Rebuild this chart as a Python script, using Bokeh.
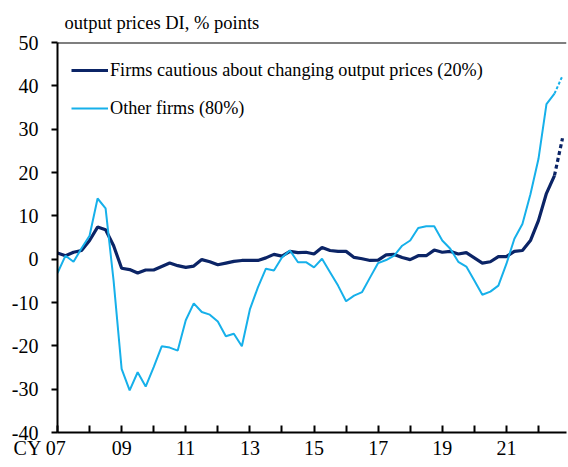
from bokeh.plotting import figure
from bokeh.models import FixedTicker, Span, Range1d
from bokeh.embed import file_html
from bokeh.resources import INLINE

# Quarterly data, 2007 Q1 onwards
start_year = 2007
cautious = [1.4, 0.8, 1.6, 2.0, 4.3, 7.4, 6.8, 3.1, -2.1, -2.4, -3.2, -2.5, -2.5, -1.7, -0.9, -1.5,
            -1.9, -1.6, -0.1, -0.6, -1.3, -0.9, -0.5, -0.3, -0.3, -0.3, 0.3, 1.1, 0.7, 1.8, 1.5, 1.6,
            1.2, 2.7, 2.0, 1.8, 1.8, 0.4, 0.1, -0.3, -0.2, 1.0, 1.1, 0.4, -0.1, 0.8, 0.8, 2.1,
            1.6, 1.8, 1.2, 1.5, 0.3, -0.9, -0.6, 0.6, 0.6, 1.8, 2.0, 4.3, 8.9, 15.2, 19.3, 27.9]
other = [-3.2, 0.8, -0.6, 2.5, 5.4, 14.0, 11.7, -5.0, -25.3, -30.3, -26.1, -29.4, -24.9, -20.1, -20.4, -21.1,
         -14.1, -10.2, -12.2, -12.8, -14.4, -17.8, -17.2, -20.1, -11.6, -6.5, -2.2, -2.6, 0.4, 2.0, -0.7, -0.7,
         -1.9, 0.1, -3.0, -6.1, -9.7, -8.4, -7.6, -4.2, -0.9, -0.2, 0.8, 3.1, 4.3, 7.2, 7.6, 7.6,
         4.3, 2.4, -0.6, -1.7, -4.9, -8.2, -7.5, -6.1, -1.1, 4.7, 8.1, 15.0, 23.1, 35.8, 38.2, 42.3]
series_names = ["Firms cautious about changing output prices (20%)", "Other firms (80%)"]
tick_years = list(range(2007, 2023))
tick_labels = {y: (f"{y % 100:02d}" if y % 2 == 1 else "") for y in tick_years}
# first label carries the "CY" prefix; trailing no-break spaces keep "07" centred on its tick
tick_labels[2007] = "CY 07" + "\u00a0" * 7
y_ticks = list(range(-40, 60, 10))
y_labels = {v: str(v) for v in y_ticks}

x = [start_year + i / 4 for i in range(len(cautious))]

DARK = "#0b2466"
LIGHT = "#16b0ea"
FONT = "Liberation Serif"

p = figure(width=568, height=467, output_backend="svg", toolbar_location=None,
           x_range=Range1d(2007, 2022.875), y_range=Range1d(-40, 50),
           min_border_left=57, min_border_right=2, min_border_top=42, min_border_bottom=35)
p.xgrid.visible = False
p.ygrid.visible = False
p.outline_line_color = None
p.background_fill_color = "white"

p.title.text = "output prices DI, % points"
p.title.align = "left"
p.title.offset = 7
p.title.text_font = FONT
p.title.text_font_style = "normal"
p.title.text_font_size = "18.5px"
p.title.text_color = "black"
p.title.standoff = 20

# solid lines
p.line(x[:-1], cautious[:-1], line_color=DARK, line_width=3.2, legend_label=series_names[0])
p.line(x[:-1], other[:-1], line_color=LIGHT, line_width=2, legend_label=series_names[1])
# dashed projections
p.line(x[-2:], cautious[-2:], line_color=DARK, line_width=3.2, line_dash="4 3")
p.line(x[-2:], other[-2:], line_color=LIGHT, line_width=2, line_dash="3 2")

for ax in (p.xaxis[0], p.yaxis[0]):
    ax.axis_line_width = 2
    ax.axis_line_color = "black"
    ax.major_tick_line_width = 2
    ax.major_tick_line_color = "black"
    ax.minor_tick_line_color = None
    ax.major_label_text_font = FONT
    ax.major_label_text_font_size = "20px"
    ax.major_label_text_color = "black"

p.xaxis.ticker = FixedTicker(ticks=tick_years)
p.xaxis.major_label_overrides = tick_labels
p.xaxis.major_tick_in = 7
p.xaxis.major_tick_out = 0
p.xaxis.major_label_standoff = 4

p.yaxis.ticker = FixedTicker(ticks=y_ticks)
p.yaxis.major_label_overrides = y_labels
p.yaxis.major_tick_in = 0
p.yaxis.major_tick_out = 6
p.yaxis.major_label_standoff = 13

p.add_layout(Span(location=50, dimension="width", line_color="black", line_width=2))

lg = p.legend[0]
lg.location = "top_left"
lg.margin = 7
lg.padding = 7
lg.border_line_alpha = 0
lg.background_fill_alpha = 0
lg.glyph_width = 37
lg.label_standoff = 2
lg.label_height = 28
lg.glyph_height = 28
lg.spacing = 10
lg.label_text_font = FONT
lg.label_text_font_size = "18.2px"
lg.label_text_color = "black"

open("out.html", "w").write(file_html(p, INLINE))
